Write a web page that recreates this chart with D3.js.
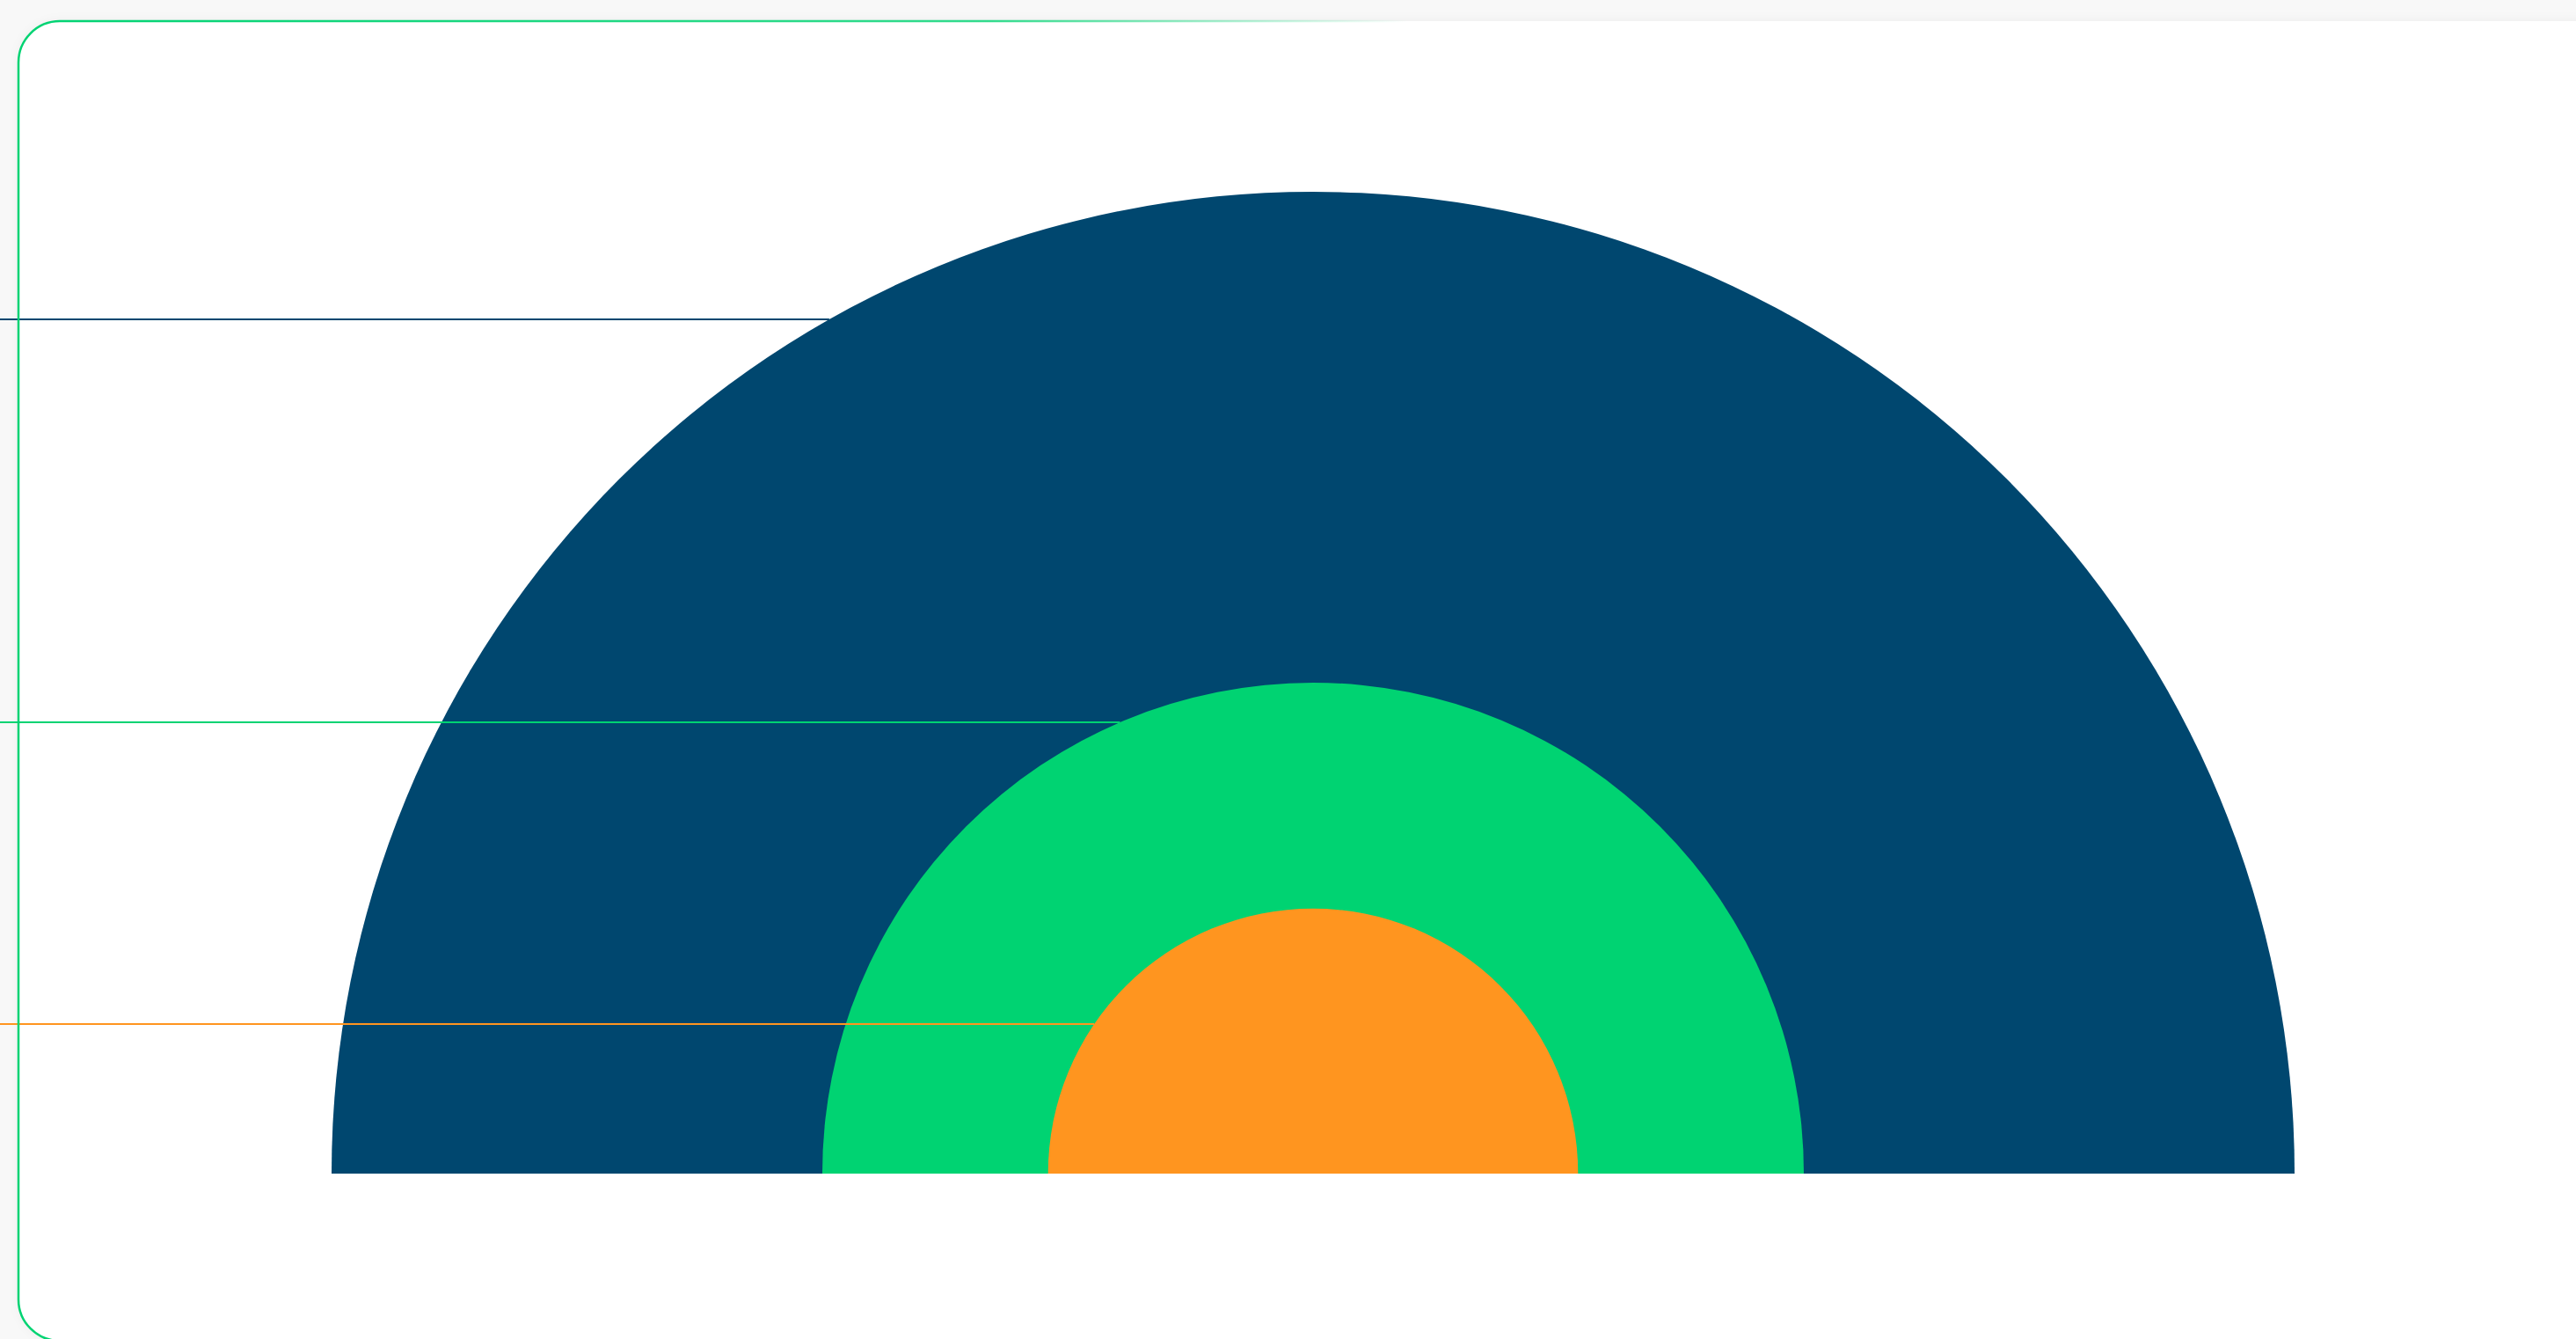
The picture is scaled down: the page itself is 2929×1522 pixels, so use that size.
<!DOCTYPE html>
<html>
<head>
<meta charset="utf-8">
<script src="https://cdn.jsdelivr.net/npm/d3@7"></script>
<style>
  html, body { margin: 0; padding: 0; background: #f8f8f8; overflow: hidden; }
  svg { display: block; }
</style>
</head>
<body>
<svg id="chart" width="2929" height="1522"></svg>
<script>
// ---- data ----
const categories = ["Total", "Segment A", "Segment B"];
const radiusValues = [100, 50, 27];      // size of each semicircle
const markerValues = [87, 46, 15.2];     // leader-line level for each series
const colors = ["#00476f", "#00d372", "#ff951f"];

// ---- layout ----
const W = 2929, H = 1522;
const cx = 1493, cy = 1334;
const svg = d3.select("#chart");

const defs = svg.append("defs");
const grad = defs.append("linearGradient")
  .attr("id", "borderGrad")
  .attr("gradientUnits", "userSpaceOnUse")
  .attr("x1", 21).attr("y1", 0).attr("x2", 1600).attr("y2", 0);
grad.append("stop").attr("offset", "0").attr("stop-color", "#00d372").attr("stop-opacity", 1);
grad.append("stop").attr("offset", "0.7").attr("stop-color", "#00d372").attr("stop-opacity", 0.8);
grad.append("stop").attr("offset", "1").attr("stop-color", "#00d372").attr("stop-opacity", 0);

const shadow = defs.append("filter").attr("id", "shadow")
  .attr("x", "-5%").attr("y", "-5%").attr("width", "110%").attr("height", "110%");
shadow.append("feDropShadow").attr("dx", 0).attr("dy", 0).attr("stdDeviation", 6)
  .attr("flood-color", "#000").attr("flood-opacity", 0.05);

// card
svg.append("rect")
  .attr("x", 21).attr("y", 24)
  .attr("width", 2960).attr("height", 1500)
  .attr("rx", 47).attr("ry", 47)
  .attr("fill", "#ffffff")
  .attr("filter", "url(#shadow)");

const rScale = d3.scaleLinear().domain([0, 100]).range([0, 1116]);

const arc = d3.arc()
  .innerRadius(0)
  .startAngle(-Math.PI / 2)
  .endAngle(Math.PI / 2);

const series = categories.map((c, i) => ({
  name: c, value: radiusValues[i], marker: markerValues[i], color: colors[i]
}));

const g = svg.append("g").attr("transform", `translate(${cx},${cy})`);

g.selectAll("path.semi")
  .data(series)
  .join("path")
  .attr("class", "semi")
  .attr("d", d => arc({ outerRadius: rScale(d.value) }))
  .attr("fill", d => d.color);

// leader lines from the left edge to the semicircle edge
const lineY = d => -Math.round(rScale(d.marker));
g.selectAll("line.lead")
  .data(series)
  .join("line")
  .attr("class", "lead")
  .attr("x1", -cx)
  .attr("x2", d => {
    const r = rScale(d.value), h = -lineY(d);
    return -Math.sqrt(Math.max(0, r * r - h * h));
  })
  .attr("y1", lineY)
  .attr("y2", lineY)
  .attr("stroke", d => d.color)
  .attr("stroke-width", 2.2);

// card border on top
svg.append("rect")
  .attr("x", 21).attr("y", 24)
  .attr("width", 2960).attr("height", 1500)
  .attr("rx", 47).attr("ry", 47)
  .attr("fill", "none")
  .attr("stroke", "url(#borderGrad)")
  .attr("stroke-width", 2.5);
</script>
</body>
</html>
